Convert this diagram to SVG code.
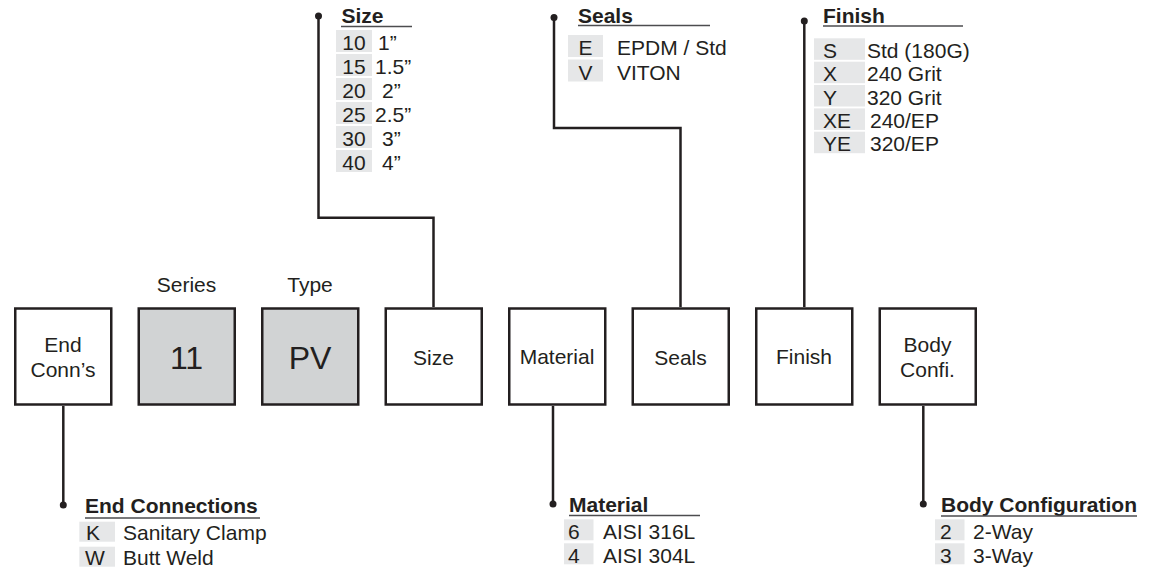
<svg xmlns="http://www.w3.org/2000/svg" width="1150" height="570" viewBox="0 0 1150 570">
<style>
text{font-family:"Liberation Sans",Arial,Helvetica,sans-serif;fill:#231f20}
.box{fill:#fff;stroke:#231f20;stroke-width:2.5}
.grey{fill:#d1d3d4}
.lbl{font-size:21px;text-anchor:middle}
.big{font-size:32px;text-anchor:middle}
.hd{font-size:21px;font-weight:bold}
.ul{stroke:#4d4d4f;stroke-width:1.6}
.code{fill:#e6e7e8}
.t{font-size:21px}
.tc{font-size:21px;text-anchor:middle}
.conn{fill:none;stroke:#231f20;stroke-width:2.5}
.dot{fill:#231f20}
</style>
<rect width="1150" height="570" fill="#fff"/>

<g id="connectors">
<polyline class="conn" points="433.5,307 433.5,217.7 318.5,217.7 318.5,16"/>
<circle class="dot" cx="318.5" cy="16" r="3.5"/>
<polyline class="conn" points="680.5,307 680.5,128 554,128 554,17.5"/>
<circle class="dot" cx="554" cy="17.5" r="3.5"/>
<polyline class="conn" points="804.3,307 804.3,21"/>
<circle class="dot" cx="804.3" cy="21" r="3.5"/>
<polyline class="conn" points="63.3,406 63.3,505"/>
<circle class="dot" cx="63.3" cy="505" r="3.5"/>
<polyline class="conn" points="553,406 553,504"/>
<circle class="dot" cx="553" cy="504" r="3.5"/>
<polyline class="conn" points="923.3,406 923.3,504"/>
<circle class="dot" cx="923.3" cy="504" r="3.5"/>
</g>

<g id="node-endconn">
<rect class="box" x="15.25" y="308.5" width="96" height="96"/>
<text class="lbl" x="63" y="351.7">End</text>
<text class="lbl" x="63" y="377.3">Conn’s</text>
</g>
<g id="node-series">
<text class="lbl" x="186.5" y="292">Series</text>
<rect class="box grey" x="138.75" y="308.5" width="96" height="96"/>
<text class="big" x="186.5" y="368.5">11</text>
</g>
<g id="node-type">
<text class="lbl" x="310" y="292">Type</text>
<rect class="box grey" x="262.25" y="308.5" width="96" height="96"/>
<text class="big" x="310" y="368.5">PV</text>
</g>
<g id="node-size">
<rect class="box" x="385.75" y="308.5" width="96" height="96"/>
<text class="lbl" x="433.5" y="365">Size</text>
</g>
<g id="node-material">
<rect class="box" x="509.25" y="308.5" width="96" height="96"/>
<text class="lbl" x="557" y="364">Material</text>
</g>
<g id="node-seals">
<rect class="box" x="632.75" y="308.5" width="96" height="96"/>
<text class="lbl" x="680.5" y="365">Seals</text>
</g>
<g id="node-finish">
<rect class="box" x="756.25" y="308.5" width="96" height="96"/>
<text class="lbl" x="804" y="364">Finish</text>
</g>
<g id="node-body">
<rect class="box" x="879.75" y="308.5" width="96" height="96"/>
<text class="lbl" x="927.5" y="351.7">Body</text>
<text class="lbl" x="927.5" y="377.3">Confi.</text>
</g>

<g id="legend-size">
<text class="hd" x="341.5" y="23">Size</text>
<line class="ul" x1="341" y1="26.5" x2="412" y2="26.5"/>
<rect class="code" x="336" y="30" width="36" height="22"/>
<rect class="code" x="336" y="54" width="36" height="22"/>
<rect class="code" x="336" y="78" width="36" height="22"/>
<rect class="code" x="336" y="102" width="36" height="22"/>
<rect class="code" x="336" y="126" width="36" height="22"/>
<rect class="code" x="336" y="150" width="36" height="22"/>
<text class="tc" x="354" y="50">10</text>
<text class="tc" x="354" y="74">15</text>
<text class="tc" x="354" y="98">20</text>
<text class="tc" x="354" y="122">25</text>
<text class="tc" x="354" y="146">30</text>
<text class="tc" x="354" y="170">40</text>
<text class="t" x="378" y="50">1”</text>
<text class="t" x="375" y="74">1.5”</text>
<text class="t" x="382" y="98">2”</text>
<text class="t" x="375" y="122">2.5”</text>
<text class="t" x="382" y="146">3”</text>
<text class="t" x="382" y="170">4”</text>
</g>

<g id="legend-seals">
<text class="hd" x="578" y="23">Seals</text>
<line class="ul" x1="578" y1="25.5" x2="710" y2="25.5"/>
<rect class="code" x="568" y="35" width="35" height="22"/>
<rect class="code" x="568" y="59.5" width="35" height="22"/>
<text class="tc" x="585.5" y="55">E</text>
<text class="tc" x="585.5" y="79.5">V</text>
<text class="t" x="617" y="55">EPDM / Std</text>
<text class="t" x="617" y="79.5">VITON</text>
</g>

<g id="legend-finish">
<text class="hd" x="823" y="23">Finish</text>
<line class="ul" x1="823" y1="26" x2="963" y2="26"/>
<rect class="code" x="814" y="38.3" width="51" height="21.5"/>
<rect class="code" x="814" y="61.7" width="51" height="21.5"/>
<rect class="code" x="814" y="85" width="51" height="21.5"/>
<rect class="code" x="814" y="108.4" width="51" height="21.5"/>
<rect class="code" x="814" y="131.7" width="51" height="21.5"/>
<text class="t" x="823" y="58">S</text>
<text class="t" x="823" y="81.4">X</text>
<text class="t" x="823" y="104.7">Y</text>
<text class="t" x="823" y="128.1">XE</text>
<text class="t" x="823" y="151.4">YE</text>
<text class="t" x="867" y="58">Std (180G)</text>
<text class="t" x="867" y="81.4">240 Grit</text>
<text class="t" x="867" y="104.7">320 Grit</text>
<text class="t" x="870" y="128.1">240/EP</text>
<text class="t" x="870" y="151.4">320/EP</text>
</g>

<g id="legend-endconn">
<text class="hd" x="85" y="513">End Connections</text>
<line class="ul" x1="85" y1="518" x2="260" y2="518"/>
<rect class="code" x="79.3" y="521.7" width="35.7" height="20"/>
<rect class="code" x="79.3" y="546.7" width="35.7" height="20"/>
<text class="t" x="86" y="540">K</text>
<text class="t" x="85" y="565">W</text>
<text class="t" x="123" y="540">Sanitary Clamp</text>
<text class="t" x="123" y="565">Butt Weld</text>
</g>

<g id="legend-material">
<text class="hd" x="569" y="512">Material</text>
<line class="ul" x1="569" y1="515.5" x2="700" y2="515.5"/>
<rect class="code" x="564" y="519.3" width="29.5" height="21"/>
<rect class="code" x="564" y="543.3" width="29.5" height="21"/>
<text class="t" x="568" y="538.5">6</text>
<text class="t" x="568" y="562.5">4</text>
<text class="t" x="603" y="538.5">AISI 316L</text>
<text class="t" x="603" y="562.5">AISI 304L</text>
</g>

<g id="legend-body">
<text class="hd" x="941" y="512">Body Configuration</text>
<line class="ul" x1="941" y1="516" x2="1137" y2="516"/>
<rect class="code" x="935" y="519.3" width="29.5" height="21"/>
<rect class="code" x="935" y="543.3" width="29.5" height="21"/>
<text class="t" x="940" y="538.5">2</text>
<text class="t" x="940" y="562.5">3</text>
<text class="t" x="973" y="538.5">2-Way</text>
<text class="t" x="973" y="562.5">3-Way</text>
</g>
</svg>
